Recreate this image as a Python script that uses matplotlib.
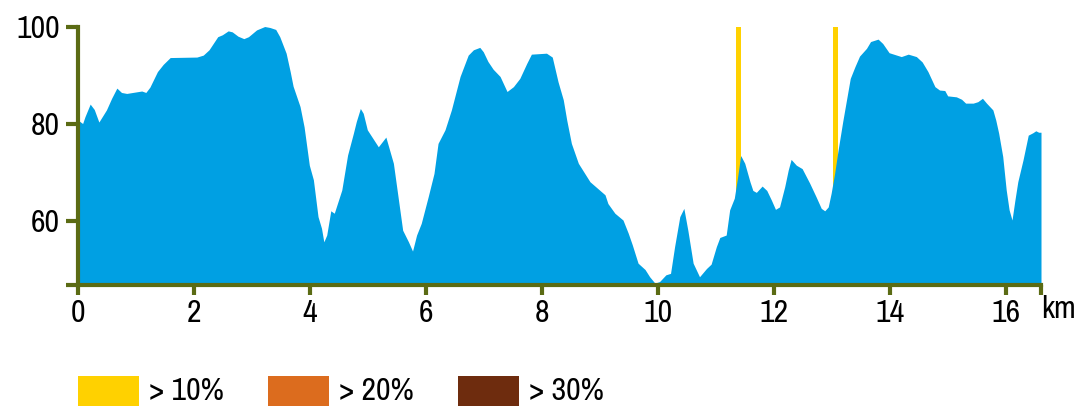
import matplotlib
matplotlib.use("Agg")
import matplotlib.pyplot as plt
import matplotlib.font_manager as fm
from matplotlib.patches import Rectangle

# elevation profile
km = [0.00, 0.08, 0.12, 0.21, 0.28, 0.36, 0.49, 0.58, 0.67, 0.75, 0.84, 1.10, 1.17, 1.24,
      1.37, 1.47, 1.59, 2.05, 2.16, 2.26, 2.41, 2.49, 2.59, 2.66, 2.76, 2.86, 2.94, 3.08,
      3.22, 3.31, 3.41, 3.48, 3.59, 3.66, 3.71, 3.83, 3.90, 3.99, 4.06, 4.14, 4.20, 4.24,
      4.29, 4.36, 4.42, 4.55, 4.65, 4.75, 4.80, 4.87, 4.92, 4.99, 5.18, 5.31, 5.44, 5.52,
      5.60, 5.70, 5.77, 5.84, 5.92, 6.04, 6.14, 6.21, 6.33, 6.44, 6.59, 6.73, 6.82, 6.93,
      6.99, 7.07, 7.16, 7.28, 7.40, 7.51, 7.62, 7.74, 7.82, 8.08, 8.18, 8.28, 8.37, 8.43,
      8.51, 8.63, 8.83, 9.09, 9.14, 9.26, 9.40, 9.49, 9.56, 9.66, 9.78, 9.86, 9.95, 10.03,
      10.14, 10.22, 10.29, 10.38, 10.45, 10.52, 10.61, 10.72, 10.84, 10.92, 11.01, 11.07,
      11.18, 11.24, 11.32, 11.37, 11.43, 11.50, 11.59, 11.64, 11.70, 11.80, 11.88, 11.96,
      12.03, 12.10, 12.19, 12.25, 12.30, 12.39, 12.49, 12.62, 12.73, 12.82, 12.88, 12.94,
      12.99, 13.05, 13.11, 13.19, 13.32, 13.40, 13.48, 13.60, 13.67, 13.80, 13.88, 13.99,
      14.20, 14.32, 14.46, 14.56, 14.66, 14.78, 14.86, 14.95, 15.00, 15.15, 15.24, 15.31,
      15.44, 15.52, 15.60, 15.67, 15.78, 15.83, 15.88, 15.95, 16.01, 16.06, 16.11, 16.16,
      16.21, 16.30, 16.36, 16.39, 16.47, 16.52, 16.57, 16.61]
elev = [80.8, 80.1, 81.5, 84.1, 83.0, 80.4, 82.9, 85.3, 87.4, 86.5, 86.3, 86.8, 86.5, 87.6,
        90.8, 92.3, 93.7, 93.8, 94.2, 95.3, 98.0, 98.4, 99.2, 99.0, 98.1, 97.6, 98.0, 99.4,
        100.1, 99.9, 99.5, 98.0, 94.6, 90.8, 87.8, 83.6, 79.4, 71.5, 68.5, 60.9, 58.5, 55.7,
        57.1, 62.1, 61.6, 66.4, 73.6, 78.1, 80.5, 83.2, 82.2, 78.8, 75.3, 77.3, 71.9, 65.0,
        58.1, 55.7, 53.8, 57.1, 59.5, 65.0, 69.8, 76.0, 78.8, 82.9, 89.8, 94.2, 95.3, 95.8,
        94.9, 92.9, 91.3, 89.8, 86.7, 87.7, 89.4, 92.5, 94.4, 94.6, 93.8, 88.7, 85.0, 80.8,
        76.0, 71.9, 68.1, 65.4, 63.6, 61.6, 60.2, 57.5, 55.1, 51.3, 50.0, 48.5, 47.2, 47.5,
        48.9, 49.2, 54.7, 60.9, 62.6, 58.0, 51.3, 48.5, 50.2, 51.1, 54.7, 56.6,
        57.1, 62.3, 64.7, 68.5, 73.5, 71.9, 68.1, 66.3, 65.9, 67.2, 66.3, 64.3,
        62.4, 62.9, 67.1, 70.5, 72.7, 71.5, 70.8, 67.8, 65.0, 62.6, 62.1, 62.9,
        65.7, 69.8, 74.6, 80.5, 89.4, 91.8, 94.0, 95.6, 97.0, 97.5, 96.6, 94.7,
        93.9, 94.4, 93.9, 92.8, 90.8, 87.7, 87.0, 86.9, 85.8, 85.6, 85.1, 84.3,
        84.3, 84.6, 85.3, 84.3, 82.9, 80.8, 78.1, 73.3, 66.4, 62.3, 60.2, 64.3,
        68.1, 72.6, 76.0, 77.7, 78.2, 78.6, 78.3, 78.3]

# steep sections (> 10%)
steep_km = [11.39, 13.06]

legend_labels = ["> 10%", "> 20%", "> 30%"]
legend_colors = ["#ffd100", "#dc6c1e", "#6e2c0e"]

xtick_vals = [0, 2, 4, 6, 8, 10, 12, 14, 16]
ytick_vals = [60, 80, 100]

ymin, ymax = 46.8, 100
xmax = km[-1]
axis_col = "#5b6b14"
fill_col = "#00a0e3"


def pick_narrow_font():
    # look for some condensed/narrow regular face, the reference uses one
    prefer = ['Narrow', 'Condensed', 'Cond']
    for key in prefer:
        for f in fm.fontManager.ttflist:
            tag = f.name + ' ' + f.fname.split('/')[-1]
            if key in tag and f.style == 'normal' and 'Bold' not in tag \
                    and 'Italic' not in tag and 'Oblique' not in tag and 'Light' not in tag:
                return fm.FontProperties(fname=f.fname), 23
    return fm.FontProperties(family='DejaVu Sans'), 16


fp, fsize = pick_narrow_font()
fp.set_size(fsize)

fig = plt.figure(figsize=(10.79, 4.13), dpi=100)
ax = fig.add_axes([78 / 1079, 1 - 285 / 413, (1041 - 78) / 1079, (285 - 27) / 413])

ax.bar(steep_km, ymax - ymin, bottom=ymin, width=0.085, color=legend_colors[0], zorder=1)
ax.fill_between(km, ymin, elev, color=fill_col, linewidth=0, zorder=2)

ax.set_xlim(0, xmax)
ax.set_ylim(ymin, ymax)

for s in ['top', 'right']:
    ax.spines[s].set_visible(False)
for s in ['left', 'bottom']:
    ax.spines[s].set_color(axis_col)
    ax.spines[s].set_linewidth(3)
    ax.spines[s].set_zorder(5)

ax.set_xticks(xtick_vals + [xmax])
ax.set_xticklabels([str(v) for v in xtick_vals] + [''], fontproperties=fp)
ax.set_yticks([ymin] + ytick_vals)
ax.set_yticklabels([''] + [str(v) for v in ytick_vals], fontproperties=fp)
ax.tick_params(axis='x', direction='out', length=7, width=3, color=axis_col, pad=3)
ax.tick_params(axis='y', direction='out', length=9, width=3, color=axis_col, pad=4)

# unit label sits right of the axis end, a bit under it
fig.text(1076 / 1079, 1 - 295 / 413, "km", ha='right', va='top', fontproperties=fp)

# legend boxes along the bottom
for i, (lab, col) in enumerate(zip(legend_labels, legend_colors)):
    x0 = 78 + i * 190
    fig.add_artist(Rectangle((x0 / 1079, 1 - 406 / 413), 61 / 1079, 30 / 413,
                             transform=fig.transFigure, color=col, linewidth=0))
    fig.text((x0 + 71) / 1079, 1 - 391 / 413, lab, ha='left', va='center',
             fontproperties=fp)

fig.savefig("out.png", dpi=100)
